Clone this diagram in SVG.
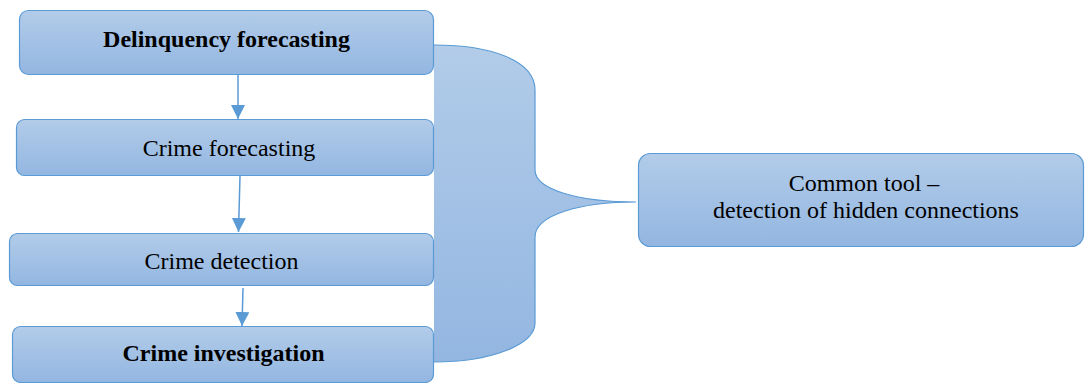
<svg xmlns="http://www.w3.org/2000/svg" width="1085" height="383" viewBox="0 0 1085 383">
<defs>
<linearGradient id="g" x1="0" y1="0" x2="0" y2="1">
<stop offset="0" stop-color="#b2cce9"/>
<stop offset="1" stop-color="#93b6e1"/>
</linearGradient>
<marker id="ah" viewBox="0 0 10 10" refX="10" refY="5" markerWidth="14" markerHeight="14" markerUnits="userSpaceOnUse" orient="auto">
<path d="M0,0 L10,5 L0,10 Z" fill="#5b9bd5"/>
</marker>
<style>
.box{fill:url(#g);stroke:#5b9bd5;stroke-width:1.2}
.t{font-family:"Liberation Serif","Times New Roman",serif;font-size:24px;fill:#000;text-anchor:middle}
.b{font-weight:bold}
.c{stroke:#5b9bd5;stroke-width:1.5;fill:none;marker-end:url(#ah)}
</style>
</defs>
<g id="brace">
<path d="M434 45 C490 45 535 60 535 90 L535 170 C535 190 580 202 636 202 C580 202 535 215 535 237 L535 323 C535 345 490 362 434 362 Z" fill="url(#g)"/>
<path d="M434 45 C490 45 535 60 535 90 L535 170 C535 190 580 202 636 202 C580 202 535 215 535 237 L535 323 C535 345 490 362 434 362" fill="none" stroke="#5b9bd5" stroke-width="1.2"/>
</g>
<g id="n1"><rect class="box" x="19.5" y="10.5" width="414" height="64" rx="9"/><text class="t b" x="226.5" y="47">Delinquency forecasting</text></g>
<g id="n2"><rect class="box" x="16.5" y="119.5" width="417" height="56" rx="8"/><text class="t" x="229" y="156">Crime forecasting</text></g>
<g id="n3"><rect class="box" x="9.5" y="233.5" width="424" height="52" rx="8"/><text class="t" x="221.5" y="269">Crime detection</text></g>
<g id="n4"><rect class="box" x="12.5" y="326.5" width="421" height="56" rx="8"/><text class="t b" x="223.5" y="361">Crime investigation</text></g>
<g id="n5"><rect class="box" x="638.5" y="153.5" width="445" height="93" rx="12"/><text class="t" x="864" y="191">Common tool –</text><text class="t" x="866" y="218">detection of hidden connections</text></g>
<g id="connectors">
<line class="c" x1="238" y1="75" x2="238" y2="119"/>
<line class="c" x1="240" y1="176" x2="238.5" y2="232"/>
<line class="c" x1="243" y1="288" x2="242" y2="326"/>
</g>
</svg>
